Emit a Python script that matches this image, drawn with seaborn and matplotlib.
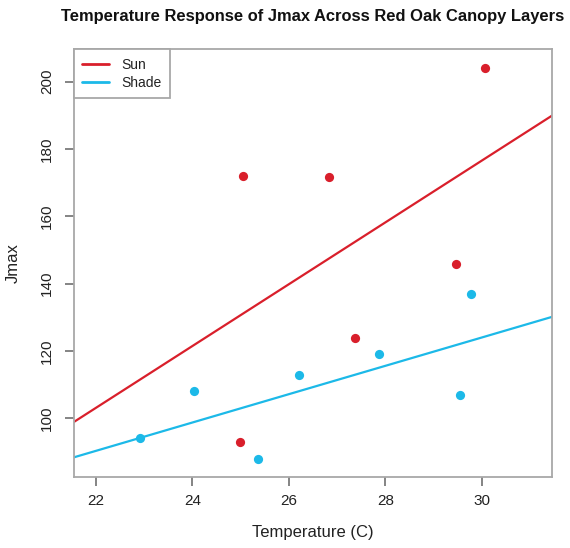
import matplotlib
matplotlib.use("Agg")
import matplotlib.pyplot as plt
import seaborn as sns
import pandas as pd
from matplotlib.lines import Line2D

# ---- data ----
sun_temp = [25.05, 24.98, 26.84, 27.36, 29.47, 30.06]
sun_jmax = [172.0, 93.0, 171.6, 123.9, 145.9, 203.9]
shade_temp = [22.92, 24.04, 25.36, 26.22, 27.86, 29.55, 29.78]
shade_jmax = [94.1, 108.0, 88.0, 113.0, 119.0, 107.0, 136.9]
layers = ["Sun", "Shade"]
colors = {"Sun": "#D91F2B", "Shade": "#1CB9E8"}
x_ticks = [22, 24, 26, 28, 30]
y_ticks = [100, 120, 140, 160, 180, 200]

title = "Temperature Response of Jmax Across Red Oak Canopy Layers"
xlabel = "Temperature (C)"
ylabel = "Jmax"

df = pd.DataFrame({
    "temp": sun_temp + shade_temp,
    "jmax": sun_jmax + shade_jmax,
    "layer": ["Sun"] * len(sun_temp) + ["Shade"] * len(shade_temp),
})

sns.set_theme(style="ticks")
plt.rcParams["font.family"] = ["Liberation Sans", "DejaVu Sans"]

fig = plt.figure(figsize=(5.70, 5.48), dpi=100)
ax = fig.add_axes([74 / 570, 1 - 477.3 / 548, (552 - 74) / 570, (477.3 - 49.3) / 548])
ax.set_xlim(21.55, 31.45)
ax.set_ylim(82.5, 209.6)

for layer in layers:
    sub = df[df["layer"] == layer]
    sns.regplot(data=sub, x="temp", y="jmax", ax=ax, ci=None, truncate=False,
                color=colors[layer],
                scatter_kws=dict(s=44, alpha=1, linewidths=0, zorder=3),
                line_kws=dict(lw=1.6, zorder=2))

ax.set_xlim(21.55, 31.45)
ax.set_ylim(82.5, 209.6)
ax.set_xticks(x_ticks)
ax.set_yticks(y_ticks)
ax.set_yticklabels([str(v) for v in y_ticks], rotation=90, va="center")

frame_col = "#A8A8A8"
for sp in ax.spines.values():
    sp.set_visible(True)
    sp.set_color(frame_col)
    sp.set_linewidth(1.3)
ax.tick_params(axis="both", which="major", bottom=True, left=True, direction="out",
               length=6.3, width=1.2, color="#707070", labelsize=11,
               labelcolor="#222222")
ax.tick_params(axis="x", pad=6)
ax.tick_params(axis="y", pad=8)

ax.set_xlabel(xlabel, fontsize=12, color="#222222", labelpad=12)
ax.set_ylabel(ylabel, fontsize=12, color="#222222", labelpad=14)
fig.suptitle(title, x=313 / 570, y=1 - 16 / 548, va="center",
             fontsize=11.9, fontweight="bold", color="#111111")

handles = [Line2D([0], [0], color=colors[l], lw=2) for l in layers]
leg = ax.legend(handles, layers, loc="upper left", bbox_to_anchor=(0, 1),
                borderaxespad=0, fancybox=False, framealpha=1, fontsize=10,
                handlelength=1.9, handletextpad=0.9, borderpad=0.6,
                labelspacing=0.3)
leg.get_frame().set_edgecolor(frame_col)
leg.get_frame().set_linewidth(1.3)
for t in leg.get_texts():
    t.set_color("#222222")

fig.savefig("out.png", dpi=100)
